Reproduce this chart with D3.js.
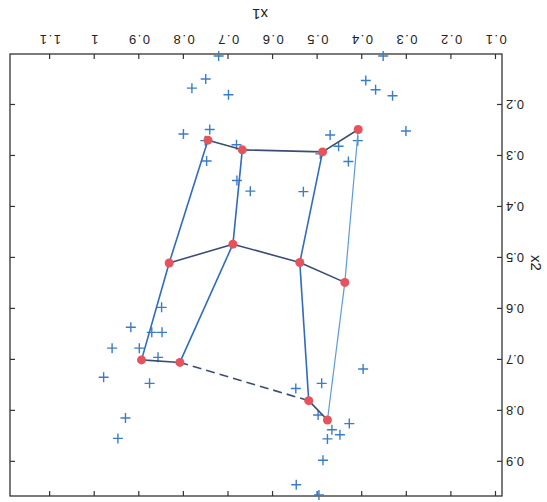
<!DOCTYPE html>
<html>
<head>
<meta charset="utf-8">
<script src="https://cdn.jsdelivr.net/npm/d3@7"></script>
<style>
  html, body { margin: 0; padding: 0; background: #fff; }
  text { font-family: Arial, "Liberation Sans", sans-serif; fill: #222; }
</style>
</head>
<body>
<div id="chart"></div>
<script>
// SOM grid nodes, 3 rows x 4 columns (row-major)
const nodeX1 = [0.409, 0.489, 0.669, 0.746, 0.439, 0.540, 0.690, 0.833, 0.478, 0.520, 0.809, 0.895];
const nodeX2 = [0.248, 0.292, 0.288, 0.269, 0.548, 0.509, 0.473, 0.510, 0.818, 0.780, 0.705, 0.700];
const gridRows = 3;
const gridCols = 4;

// input samples
const pointX1 = [0.722, 0.353, 0.782, 0.751, 0.700, 0.392, 0.370, 0.332, 0.302, 0.801, 0.742, 0.752,
  0.682, 0.749, 0.472, 0.453, 0.431, 0.494, 0.410, 0.681, 0.651, 0.532, 0.850, 0.919, 0.872, 0.849,
  0.961, 0.900, 0.858, 0.980, 0.877, 0.931, 0.948, 0.398, 0.491, 0.549, 0.499, 0.429, 0.468, 0.450,
  0.478, 0.488, 0.548, 0.497];
const pointX2 = [0.104, 0.104, 0.167, 0.149, 0.180, 0.152, 0.170, 0.182, 0.251, 0.257, 0.248, 0.270,
  0.278, 0.310, 0.259, 0.281, 0.311, 0.296, 0.270, 0.348, 0.369, 0.370, 0.597, 0.636, 0.646, 0.646,
  0.677, 0.677, 0.695, 0.734, 0.746, 0.814, 0.854, 0.718, 0.746, 0.756, 0.808, 0.825, 0.837, 0.847,
  0.855, 0.897, 0.945, 0.965];

const xTicks = [0.1, 0.2, 0.3, 0.4, 0.5, 0.6, 0.7, 0.8, 0.9, 1, 1.1];
const yTicks = [0.2, 0.3, 0.4, 0.5, 0.6, 0.7, 0.8, 0.9];

const W = 547;
const H = 502;
const frame = { left: 45, right: 537, top: 6, bottom: 448 };

const svg = d3
  .select('#chart')
  .append('svg')
  .attr('width', W)
  .attr('height', H);

// the whole figure is shown upside down
const g = svg.append('g').attr('transform', `rotate(180 ${W / 2} ${H / 2})`);

const x = d3.scaleLinear().domain([0.0865, 1.19]).range([frame.left, frame.right]);
const y = d3.scaleLinear().domain([0.1, 0.967]).range([frame.bottom, frame.top]);

const fmt = (d) => d3.format('~g')(d);

// axes with inward ticks on all four sides
const styleAxis = (sel) => {
  sel.select('.domain').remove();
  sel.selectAll('.tick line').attr('stroke', '#333').attr('stroke-width', 1.2);
  sel.selectAll('.tick text').style('font-size', '13px');
};

g.append('g')
  .attr('transform', `translate(0,${frame.bottom})`)
  .call(d3.axisBottom(x).tickValues(xTicks).tickFormat(fmt).tickSize(-5).tickPadding(10))
  .call(styleAxis)
  .selectAll('.tick text')
  .style('letter-spacing', '1.5px');

g.append('g')
  .attr('transform', `translate(0,${frame.top})`)
  .call(d3.axisTop(x).tickValues(xTicks).tickFormat('').tickSize(-5))
  .call(styleAxis);

g.append('g')
  .attr('transform', `translate(${frame.left},0)`)
  .call(d3.axisLeft(y).tickValues(yTicks).tickFormat(fmt).tickSize(-5).tickPadding(4))
  .call(styleAxis);

g.append('g')
  .attr('transform', `translate(${frame.right},0)`)
  .call(d3.axisRight(y).tickValues(yTicks).tickFormat('').tickSize(-5))
  .call(styleAxis);

g.append('rect')
  .attr('x', frame.left)
  .attr('y', frame.top)
  .attr('width', frame.right - frame.left)
  .attr('height', frame.bottom - frame.top)
  .attr('fill', 'none')
  .attr('stroke', '#333')
  .attr('stroke-width', 1.3);

g.append('text')
  .attr('x', (frame.left + frame.right) / 2 - 4)
  .attr('y', frame.bottom + 45)
  .attr('text-anchor', 'middle')
  .style('font-size', '15px')
  .text('x1');

g.append('text')
  .attr('transform', `translate(${16},${y(0.51)}) rotate(-90)`)
  .attr('text-anchor', 'middle')
  .style('font-size', '15px')
  .text('x2');

// data samples as '+' markers
g.append('g')
  .selectAll('path')
  .data(pointX1.map((d, i) => [d, pointX2[i]]))
  .join('path')
  .attr('d', (d) => `M${x(d[0]) - 5},${y(d[1])}h10M${x(d[0])},${y(d[1]) - 5}v10`)
  .attr('stroke', '#3a7dc4')
  .attr('stroke-width', 1.4)
  .attr('fill', 'none');

// grid connections
const nodes = nodeX1.map((d, i) => ({ x1: d, x2: nodeX2[i], r: Math.floor(i / gridCols), c: i % gridCols }));
const node = (r, c) => nodes[r * gridCols + c];

const links = [];
for (let r = 0; r < gridRows; r++) {
  for (let c = 0; c < gridCols - 1; c++) {
    links.push({ a: node(r, c), b: node(r, c + 1), kind: 'row' });
  }
}
for (let c = 0; c < gridCols; c++) {
  for (let r = 0; r < gridRows - 1; r++) {
    links.push({ a: node(r, c), b: node(r + 1, c), kind: c === 0 ? 'colLight' : 'col' });
  }
}

g.append('g')
  .selectAll('line')
  .data(links)
  .join('line')
  .attr('x1', (d) => x(d.a.x1))
  .attr('y1', (d) => y(d.a.x2))
  .attr('x2', (d) => x(d.b.x1))
  .attr('y2', (d) => y(d.b.x2))
  .attr('stroke', (d) => (d.kind === 'row' ? '#3a4d72' : d.kind === 'colLight' ? '#5b9bd8' : '#2f6cbf'))
  .attr('stroke-width', (d) => (d.kind === 'colLight' ? 1.2 : 1.6))
  .attr('stroke-dasharray', (d) => (d.a.r === 2 && d.a.c === 1 && d.b.c === 2 ? '9,5' : null));

g.append('g')
  .selectAll('circle')
  .data(nodes)
  .join('circle')
  .attr('cx', (d) => x(d.x1))
  .attr('cy', (d) => y(d.x2))
  .attr('r', 4.5)
  .attr('fill', '#e6535d');
</script>
</body>
</html>
